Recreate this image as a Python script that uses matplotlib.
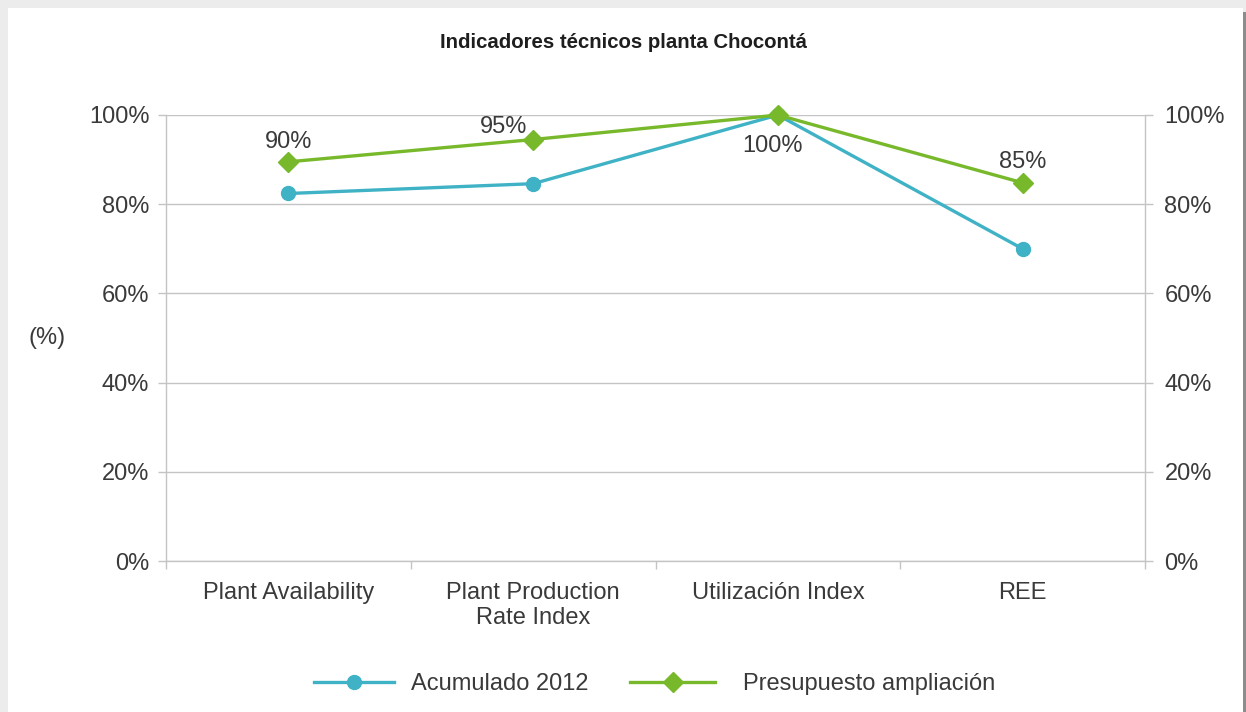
# technical indicators line chart, Choconta plant
import matplotlib
matplotlib.use("Agg")
import matplotlib.pyplot as plt
from matplotlib.patches import Rectangle
from matplotlib.lines import Line2D
from matplotlib.ticker import PercentFormatter, MultipleLocator, FixedLocator

plt.rcParams['font.family'] = ['Liberation Sans', 'DejaVu Sans']

categories = ["Plant Availability", "Plant Production\nRate Index", "Utilización Index", "REE"]
acumulado = [0.824, 0.846, 1.00, 0.70]
presupuesto = [0.895, 0.945, 1.00, 0.848]
pres_labels = ["90%", "95%", "100%", "85%"]
series_names = ["Acumulado 2012", "Presupuesto ampliación"]

teal = '#3fb2c6'
green = '#78b92c'
txt = '#3a3a3a'
grid_c = '#c4c4c4'
fs = 17

W, H = 1246, 712
fig = plt.figure(figsize=(W / 100, H / 100), dpi=100)
fig.patch.set_facecolor('#ececec')
# white card with dark edge on the right
fig.patches.append(Rectangle((8 / W, 0), 1235 / W, 1 - 8 / H, transform=fig.transFigure,
                             facecolor='white', edgecolor='none', zorder=-10))
fig.patches.append(Rectangle((1243 / W, 0), 3 / W, 1 - 12 / H, transform=fig.transFigure,
                             facecolor='#8c8c8c', edgecolor='none', zorder=-10))

ax = fig.add_axes([166 / W, 1 - 561 / H, (1145 - 166) / W, (561 - 115) / H])
ax.set_facecolor('none')
x = list(range(len(categories)))

ax.plot(x, acumulado, color=teal, lw=2.4, marker='o', ms=10, zorder=3, clip_on=False)
ax.plot(x, presupuesto, color=green, lw=2.4, marker='D', ms=10, zorder=4, clip_on=False)

ax.set_xlim(-0.5, len(categories) - 0.5)
ax.set_ylim(0, 1)
ax.yaxis.set_major_locator(MultipleLocator(0.2))
ax.yaxis.set_major_formatter(PercentFormatter(1.0, decimals=0))
ax.grid(axis='y', color=grid_c, lw=1.0, zorder=0)
ax.set_axisbelow(True)

ax.set_xticks(x)
ax.set_xticklabels(categories, fontsize=fs, color=txt, linespacing=1.2)
ax.xaxis.set_minor_locator(FixedLocator([i - 0.5 for i in range(len(categories) + 1)]))
ax.tick_params(axis='x', which='major', length=0, pad=15)
ax.tick_params(axis='x', which='minor', length=6, color=grid_c, width=1)
ax.tick_params(axis='y', length=6, color=grid_c, width=1, labelsize=fs, labelcolor=txt, pad=6)

for s in ['top']:
    ax.spines[s].set_visible(False)
for s in ['left', 'right', 'bottom']:
    ax.spines[s].set_color(grid_c)
    ax.spines[s].set_linewidth(1.0)

ax2 = ax.twinx()
ax2.set_ylim(0, 1)
ax2.yaxis.set_major_locator(MultipleLocator(0.2))
ax2.yaxis.set_major_formatter(PercentFormatter(1.0, decimals=0))
ax2.tick_params(axis='y', length=6, color=grid_c, width=1, labelsize=fs, labelcolor=txt, pad=8)
for s in ax2.spines.values():
    s.set_visible(False)

# data labels on the budget series
offsets = [(0, 14), (-21, 9), (-4, -22), (0, 15)]
for i, (v, lab) in enumerate(zip(presupuesto, pres_labels)):
    dx, dy = offsets[i]
    ax.annotate(lab, (i, v), xytext=(dx, dy), textcoords='offset points',
                ha='center', va='center', fontsize=fs, color=txt, zorder=5)

ax.text(-0.1216, 0.5, "(%)", transform=ax.transAxes, fontsize=fs, color=txt,
        ha='center', va='center')

fig.text(0.5, 1 - 42 / H, "Indicadores técnicos planta Chocontá", ha='center', va='center',
         fontsize=14.7, fontweight='bold', color='#1e1e1e')

handles = [Line2D([], [], color=teal, lw=2.4, marker='o', ms=10),
           Line2D([], [], color=green, lw=2.4, marker='D', ms=10)]
fig.legend(handles[:1], series_names[:1], loc='center left',
           bbox_to_anchor=(314 / W, 1 - 684 / H), frameon=False, fontsize=fs,
           labelcolor=txt, handlelength=3.4, handletextpad=0.72,
           borderaxespad=0, borderpad=0)
fig.legend(handles[1:], series_names[1:], loc='center left',
           bbox_to_anchor=(630 / W, 1 - 684 / H), frameon=False, fontsize=fs,
           labelcolor=txt, handlelength=3.6, handletextpad=1.2,
           borderaxespad=0, borderpad=0)

plt.savefig("out.png", dpi=100)
